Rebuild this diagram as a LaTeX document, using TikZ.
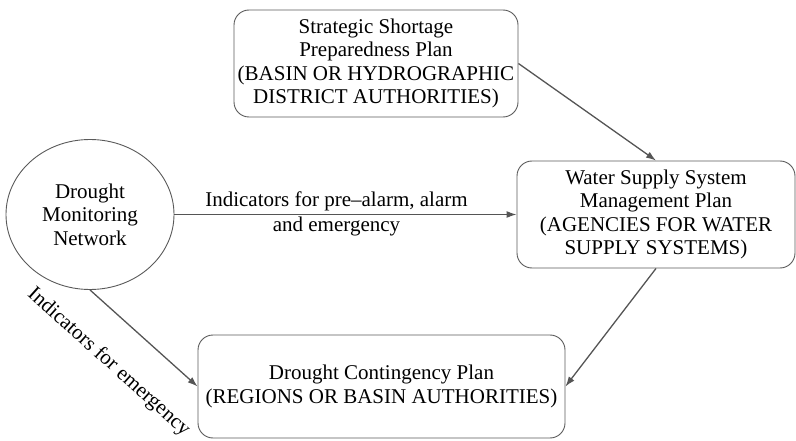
\documentclass[tikz,border=0pt]{standalone}
\usepackage{fontspec}
\setmainfont{Liberation Serif}
\usetikzlibrary{shapes.geometric,arrows.meta}
\definecolor{boxgray}{HTML}{5A5A5A}
\definecolor{linegray}{HTML}{555555}
\begin{document}
\begin{tikzpicture}[x=1pt,y=-1pt,
  txt/.style={font=\fontsize{21}{23.5}\selectfont, align=center},
  box/.style={txt, draw=boxgray, line width=0.9pt, rounded corners=15pt, inner sep=0pt},
  oval/.style={txt, ellipse, draw=boxgray, line width=0.9pt, inner sep=0pt},
  conn/.style={draw=linegray, line width=1.3pt, -{Latex[length=10pt,width=7pt]}},
  lab/.style={txt, inner sep=2pt}
]
\useasboundingbox (0,0) rectangle (796,441);
\node[box, minimum width=284pt, minimum height=107pt] (top) at (376,63.5)
  {Strategic Shortage\\Preparedness Plan\\(BASIN OR HYDROGRAPHIC\\DISTRICT AUTHORITIES)};
\node[box, minimum width=278pt, minimum height=107pt] (water) at (656,214.5)
  {Water Supply System\\Management Plan\\(AGENCIES FOR WATER\\SUPPLY SYSTEMS)};
\node[oval, minimum width=168pt, minimum height=150pt] (mon) at (90,214.5)
  {Drought\\Monitoring\\Network};
\node[box, minimum width=367pt, minimum height=103pt] (cont) at (381.5,386.5)
  {Drought Contingency Plan\\(REGIONS OR BASIN AUTHORITIES)};
\draw[conn] (top.east) -- (water.north);
\draw[conn] (mon) -- (water)
  node[midway, above=1pt, xshift=-9pt, lab] (l1) {Indicators for pre–alarm, alarm}
  node[midway, below=0pt, xshift=-9pt, lab] (l2) {and emergency};
\draw[conn] (mon.south) -- (cont.west)
  node[pos=0.43, sloped, below=29pt, lab] (l3) {Indicators for emergency};
\draw[conn] (water.south) -- (cont.east);
\end{tikzpicture}
\end{document}
